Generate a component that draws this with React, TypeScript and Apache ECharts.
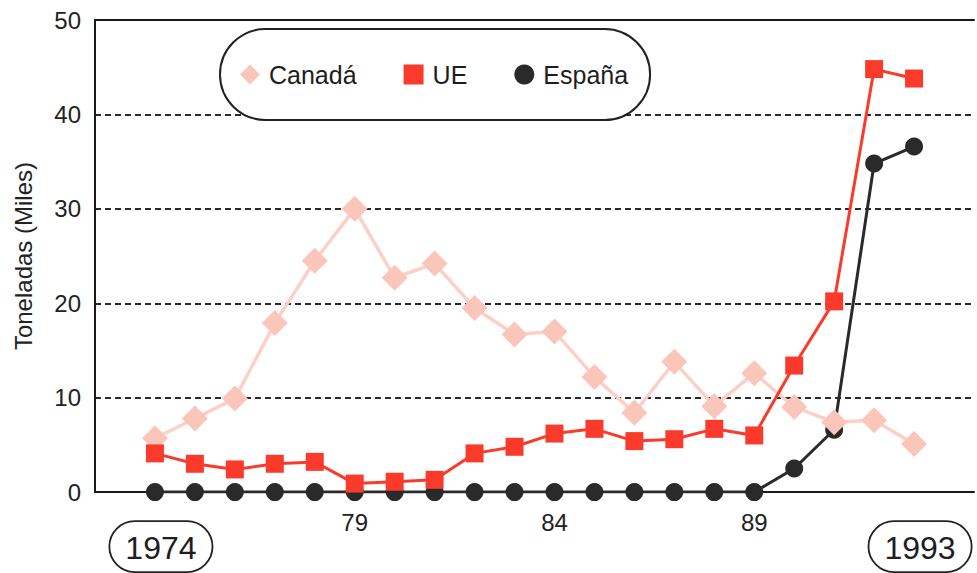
import React, { useEffect, useRef } from 'react';
import * as echarts from 'echarts';

const years = [1974, 1975, 1976, 1977, 1978, 1979, 1980, 1981, 1982, 1983, 1984, 1985, 1986, 1987, 1988, 1989, 1990, 1991, 1992, 1993];
const canada = [5.7, 7.8, 9.9, 17.9, 24.5, 30.0, 22.7, 24.2, 19.5, 16.7, 17.0, 12.2, 8.4, 13.8, 9.1, 12.6, 9.0, 7.4, 7.6, 5.1];
const ue = [4.1, 3.0, 2.4, 3.0, 3.2, 0.9, 1.1, 1.3, 4.1, 4.8, 6.2, 6.7, 5.4, 5.6, 6.7, 6.0, 13.4, 20.2, 44.8, 43.8];
const espana = [0, 0, 0, 0, 0, 0, 0, 0, 0, 0, 0, 0, 0, 0, 0, 0, 2.5, 6.6, 34.8, 36.6];
const shortYearLabels: Record<string, string> = { '1979': '79', '1984': '84', '1989': '89' };
const boxedYears = [1974, 1993];
const seriesNames = ['Canadá', 'UE', 'España'];

const X_MIN = 1972.5;
const X_MAX = 1994.5;

export default function App() {
  const ref = useRef<HTMLDivElement>(null);
  useEffect(() => {
    const chart = echarts.init(ref.current!, null, { renderer: 'svg' });
    const pair = (vals: number[]) => years.map((y, i) => [y, vals[i]]);
    chart.setOption({
      animation: false,
      backgroundColor: '#ffffff',
      textStyle: { fontFamily: '"Liberation Sans", Arial, sans-serif' },
      grid: { left: 95, right: 0, top: 20, bottom: 80 },
      legend: {
        left: 220,
        top: 29,
        orient: 'horizontal',
        padding: [33, 22, 33, 20],
        itemGap: 47,
        itemWidth: 20,
        itemHeight: 20,
        borderColor: '#222',
        borderWidth: 2,
        borderRadius: 47,
        backgroundColor: '#ffffff',
        textStyle: { fontSize: 25, color: '#1e1e1e', padding: [0, 0, 0, 4] },
        data: [
          { name: seriesNames[0], icon: 'diamond' },
          { name: seriesNames[1], icon: 'rect' },
          { name: seriesNames[2], icon: 'circle' },
        ],
      },
      xAxis: [
        {
          type: 'value',
          min: X_MIN,
          max: X_MAX,
          interval: 0.5,
          position: 'bottom',
          axisLine: { show: true, onZero: false, lineStyle: { color: '#1a1a1a', width: 2 } },
          axisTick: { show: false },
          splitLine: { show: false },
          axisLabel: {
            fontSize: 24,
            color: '#222',
            margin: 18,
            showMinLabel: true,
            showMaxLabel: true,
            formatter: (v: number) => shortYearLabels[String(v)] ?? '',
          },
        },
        {
          type: 'value',
          min: X_MIN,
          max: X_MAX,
          interval: 0.5,
          position: 'bottom',
          axisLine: { show: false },
          axisTick: { show: false },
          splitLine: { show: false },
          axisLabel: {
            margin: 29,
            padding: [0, 0, 0, 12],
            formatter: (v: number) => (boxedYears.includes(v) ? `{b|${v}}` : ''),
            rich: {
              b: {
                fontSize: 32,
                color: '#1e1e1e',
                padding: [11, 16, 8, 16],
                borderColor: '#222',
                borderWidth: 1.8,
                borderRadius: 26,
              },
            },
          },
        },
        {
          type: 'value',
          min: X_MIN,
          max: X_MAX,
          position: 'top',
          axisLine: { show: true, onZero: false, lineStyle: { color: '#1a1a1a', width: 2 } },
          axisTick: { show: false },
          axisLabel: { show: false },
          splitLine: { show: false },
        },
      ],
      yAxis: {
        type: 'value',
        min: 0,
        max: 50,
        interval: 10,
        axisLine: { show: true, lineStyle: { color: '#1a1a1a', width: 2 } },
        axisTick: { show: false },
        axisLabel: { fontSize: 24, color: '#222', margin: 14 },
        splitLine: { show: true, lineStyle: { type: [6, 4], color: '#2a2a2a', width: 2 } },
        name: 'Toneladas (Miles)',
        nameLocation: 'middle',
        nameGap: 60,
        nameRotate: 90,
        nameTextStyle: { fontSize: 24, color: '#222' },
      },
      series: [
        {
          name: seriesNames[0],
          type: 'line',
          data: pair(canada),
          symbol: 'diamond',
          symbolSize: 26,
          z: 3,
          lineStyle: { color: '#fcd0c6', width: 3.5 },
          itemStyle: { color: '#fbc6ba' },
        },
        {
          name: seriesNames[1],
          type: 'line',
          data: pair(ue),
          symbol: 'rect',
          symbolSize: 18,
          z: 4,
          lineStyle: { color: '#fa3b2c', width: 3 },
          itemStyle: { color: '#fa3b2c' },
        },
        {
          name: seriesNames[2],
          type: 'line',
          data: pair(espana),
          symbol: 'circle',
          symbolSize: 18,
          z: 2,
          lineStyle: { color: '#2a2a2a', width: 3 },
          itemStyle: { color: '#2a2a2a' },
        },
      ],
    });
    return () => chart.dispose();
  }, []);
  return <div ref={ref} style={{ position: 'fixed', left: 0, top: 0, width: 977, height: 573 }} />;
}
